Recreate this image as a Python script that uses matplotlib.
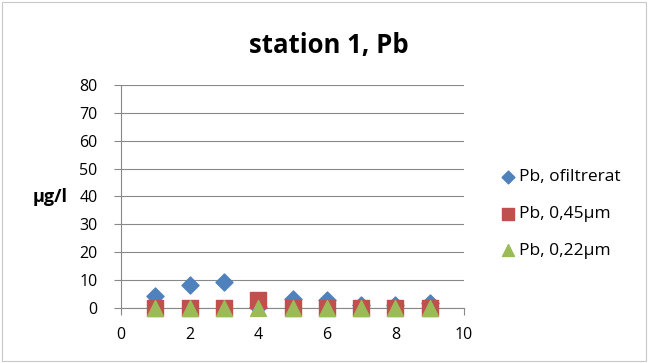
import matplotlib
matplotlib.use("Agg")
import matplotlib.pyplot as plt
from matplotlib.patches import Rectangle

x = [1, 2, 3, 4, 5, 6, 7, 8, 9]
ofiltrerat = [4.3, 8.4, 9.2, 0.5, 3.3, 3.0, 1.0, 1.0, 1.8]
f045 = [0, 0, 0, 2.9, 0, 0, 0, 0, 0]
f022 = [0, 0, 0, 0, 0, 0, 0, 0, 0]
labels = ["Pb, ofiltrerat", "Pb, 0,45µm", "Pb, 0,22µm"]

plt.rcParams['font.family'] = ['Open Sans', 'DejaVu Sans']
fig = plt.figure(figsize=(6.48, 3.63), dpi=100)
fig.patches.append(Rectangle((0.003, 0.005), 0.994, 0.99, transform=fig.transFigure,
                             fill=False, edgecolor='#c8c8c8', linewidth=0.8))
ax = fig.add_axes([0.187, 0.1515, 0.529, 0.6145])

ax.scatter(x, ofiltrerat, marker='D', s=75, color='#4f81bd', label=labels[0], zorder=3, clip_on=False)
ax.scatter(x, f045, marker='s', s=120, color='#c0504d', label=labels[1], zorder=4, clip_on=False)
ax.scatter(x, f022, marker='^', s=130, color='#9bbb59', label=labels[2], zorder=5, clip_on=False)

ax.set_xlim(0, 10)
ax.set_ylim(0, 80)
ax.set_xticks(range(0, 11, 2))
ax.set_yticks(range(0, 81, 10))
ax.grid(axis='y', color='#888888', linewidth=0.8)
ax.set_axisbelow(True)
for s in ['top', 'right']:
    ax.spines[s].set_visible(False)
for s in ['left', 'bottom']:
    ax.spines[s].set_color('#888888')
ax.tick_params(axis='both', colors='#888888', labelcolor='black', labelsize=11.5)
ax.tick_params(axis='x', length=5, pad=9)
ax.tick_params(axis='y', length=5, pad=12)

fig.text(0.508, 0.854, "station 1, Pb", fontsize=18.5, fontweight='bold', ha='center', va='baseline')
fig.text(0.077, 0.457, "µg/l", fontsize=13, fontweight='bold', ha='center', va='center')

leg = ax.legend(loc='center left', bbox_to_anchor=(0.744, 0.4105), bbox_transform=fig.transFigure,
                frameon=False, fontsize=12.5, handletextpad=0.05, labelspacing=1.2,
                handlelength=1.2, scatterpoints=1, markerscale=0.75)
fig.savefig("out.png", dpi=100)
